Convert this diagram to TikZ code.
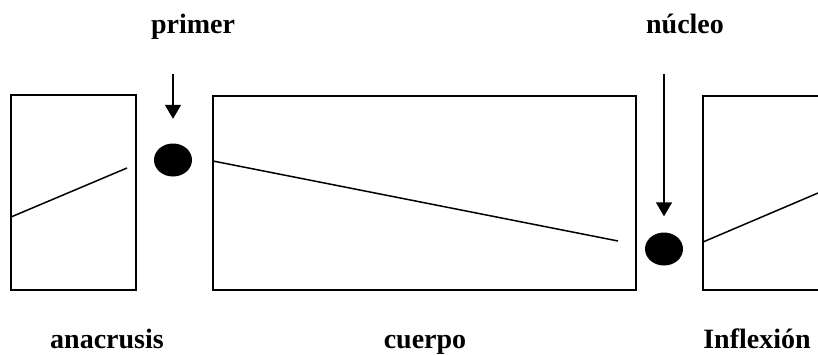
\documentclass[tikz,border=0pt]{standalone}
\usepackage{fontspec}
\setmainfont{Liberation Serif}
\usetikzlibrary{arrows.meta,shapes.geometric}
\begin{document}
\begin{tikzpicture}[x=1pt,y=-1pt,
  boxpart/.style={draw,line width=2pt,rectangle,inner sep=0pt,outer sep=0pt},
  slope/.style={line width=1.5pt},
  dot/.style={ellipse,fill=black,inner sep=0pt,minimum width=38pt,minimum height=33pt},
  arr/.style={line width=1.5pt,-{Triangle[width=16pt,length=14pt]}},
  lbl/.style={anchor=base,inner sep=0pt,font=\fontsize{28}{32}\selectfont\bfseries}]
\useasboundingbox (0,0) rectangle (818,354);
\clip (0,0) rectangle (818,354);
% boxes
\node[boxpart,minimum width=125pt,minimum height=195pt] (anac) at (73.5,192.5) {};
\node[boxpart,minimum width=423pt,minimum height=194pt] (cuer) at (424.5,193) {};
\node[boxpart,minimum width=147pt,minimum height=194pt] (infl) at (776.5,193) {};
% lines inside
\draw[slope] (11,217) -- (127,168);
\draw[slope] (213,161) -- (618,241);
\draw[slope] (703,242) -- (850,179.4);
% dots
\node[dot] (d1) at (173,160) {};
\node[dot] (d2) at (664,249) {};
% arrows
\coordinate (a1) at (173,74);
\coordinate (a2) at (664,74);
\draw[arr] (a1) -- ([yshift=24.5pt]d1.north);
\draw[arr] (a2) -- ([yshift=16pt]d2.north);
% labels
\node[lbl] (primer) at (193,33) {primer};
\node[lbl] (nucleo) at (685,33) {núcleo};
\node[lbl] (anacl) at (107,348) {anacrusis};
\node[lbl] (cuerl) at (425,348) {cuerpo};
\node[lbl] (infll) at (757,348) {Inflexión};
\end{tikzpicture}
\end{document}
